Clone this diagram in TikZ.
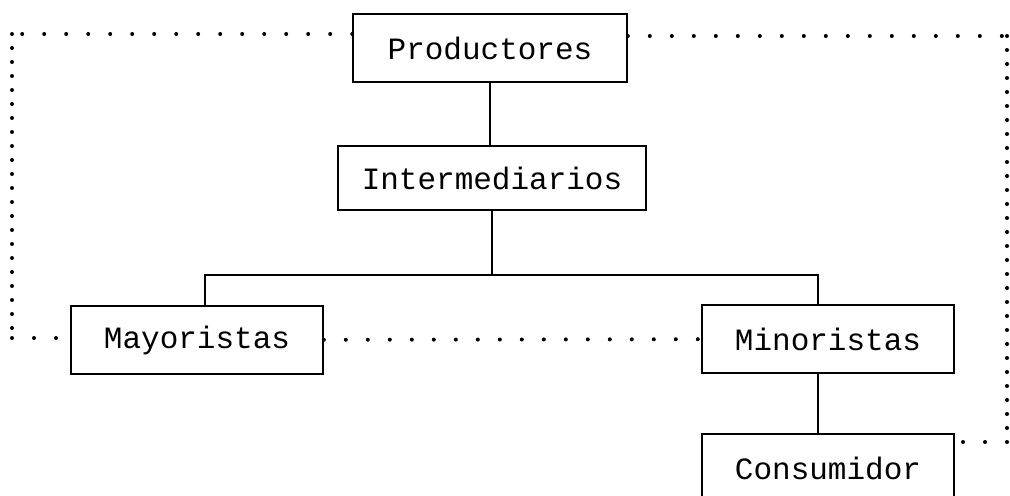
\documentclass[tikz,border=0pt]{standalone}
\usepackage{fontspec}
\setmonofont{Liberation Mono}
\begin{document}
\begin{tikzpicture}[x=0.5pt,y=-0.5pt,line width=0.8pt,
      every node/.style={inner sep=2pt,font=\ttfamily\fontsize{15.5}{18}\selectfont},
      caja/.style={draw,minimum width=126pt,minimum height=34pt},
      flujo/.style={line width=2pt,line cap=round,dash pattern=on 0pt off 11pt}]
    \useasboundingbox(0,0)rectangle(1010,496);
    \clip(0,0)rectangle(1010,496);
    \node[caja,minimum width=137pt](prod)at(490,48){Productores};
    \node[caja,minimum width=154pt,minimum height=32pt](inter)at(492,178){Intermediarios};
    \node[caja](may)at(197,340){Mayoristas};
    \node[caja](min)at(828,339){Minoristas};
    \node[caja](cons)at(828,468){Consumidor};
    \coordinate(bus)at(492,275);
    \coordinate(tl)at(12,34);\coordinate(bl)at(12,338);
    \coordinate(tr)at(1007,36);\coordinate(br)at(1007,442);
    % lineas de la cadena
    \draw(prod)--(prod|-inter.north);
    \draw(inter)--(bus);
    \draw(may.north-|205,0)|-(bus)-|(min.north-|818,0);
    \draw(min.south-|818,0)--(cons.north-|818,0);
    % lineas punteadas
    \draw[flujo](prod.west|-tl)--(tl);
    \draw[flujo,dash pattern=on 0pt off 7pt](tl)--(bl);
    \draw[flujo](bl)--(may.west|-bl);
    \draw[flujo](prod.east|-tr)--(tr);
    \draw[flujo,dash pattern=on 0pt off 7pt](tr)--(br);
    \draw[flujo](br)--(cons.east|-br);
    \draw[flujo](may)--(min);
  \end{tikzpicture}
\end{document}
